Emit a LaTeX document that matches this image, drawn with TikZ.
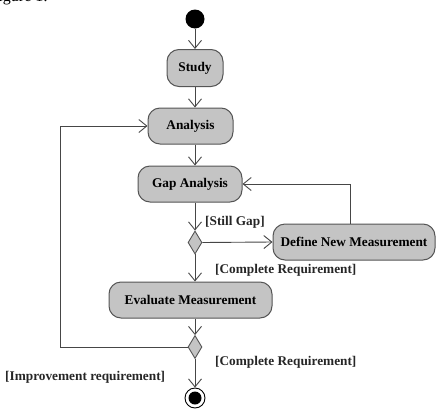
\documentclass[tikz,border=0pt]{standalone}
\usepackage{fontspec}
\setmainfont{Liberation Serif}
\usetikzlibrary{shapes.geometric,arrows.meta}
\definecolor{boxfill}{RGB}{196,196,196}
\definecolor{boxline}{RGB}{85,85,85}
\definecolor{lineclr}{RGB}{70,70,70}
\begin{document}
\begin{tikzpicture}[x=1pt,y=-1pt,
  act/.style={draw=boxline, fill=boxfill, rounded corners=12pt, line width=1pt,
    font=\fontsize{13.3}{15}\selectfont\bfseries, inner sep=0pt, minimum height=36pt},
  dec/.style={diamond, draw=boxline, fill=boxfill, line width=0.9pt, minimum width=14pt,
    minimum height=23pt, inner sep=0pt},
  flow/.style={draw=lineclr, line width=0.9pt, -{Straight Barb[length=8pt,width=13pt]}},
  lbl/.style={font=\fontsize{13.3}{15}\selectfont\bfseries, inner sep=0pt, text=black!85}]
\useasboundingbox (0,0) rectangle (439,418);
\node[anchor=base east, font=\fontsize{16}{18}\selectfont, inner sep=0pt] (fig) at (48,1.5) {Figure 1:};
\node[circle, fill=black, minimum size=19pt, inner sep=0pt] (start) at (195,19) {};
\node[act, minimum width=56pt, minimum height=37pt] (study) at (195,68) {Study};
\node[act, minimum width=85pt] (analysis) at (190.5,126) {Analysis};
\node[act, minimum width=104pt] (gap) at (190,184) {Gap Analysis};
\node[dec] (d1) at (195,242.5) {};
\node[act, minimum width=162pt] (define) at (354,242) {Define New Measurement};
\node[act, minimum width=163pt] (eval) at (190.5,300) {Evaluate Measurement};
\node[dec] (d2) at (195,347) {};
\node[circle, draw=black, line width=0.9pt, fill=white, minimum size=20pt, inner sep=0pt] (endo) at (195,398) {};
\node[circle, fill=black, minimum size=13pt, inner sep=0pt] (endi) at (endo.center) {};
\coordinate (loop) at (60,347);
\draw[flow] (start) -- (study);
\draw[flow] (study.south) -- (study.south |- analysis.north);
\draw[flow] (analysis.south -| d1) -- (d1 |- gap.north);
\draw[flow] (gap.south -| d1) -- (d1.north);
\draw[flow] (d1.east) -- (define.west);
\draw[flow] ([xshift=-4pt]define.north) |- (gap.east);
\draw[flow] (d1.south) -- (d1 |- eval.north);
\draw[flow] (eval.south -| d2) -- (d2.north);
\draw[flow] (d2.west) -- (loop) |- (analysis.west);
\draw[flow] (d2.south) -- (endo.north);
\node[lbl, anchor=west] (l1) at (205,222) {[Still Gap]};
\node[lbl, anchor=west] (l2) at (215,270) {[Complete Requirement]};
\node[lbl, anchor=west] (l3) at (215,362) {[Complete Requirement]};
\node[lbl, anchor=west] (l4) at (5,377) {[Improvement requirement]};
\end{tikzpicture}
\end{document}
